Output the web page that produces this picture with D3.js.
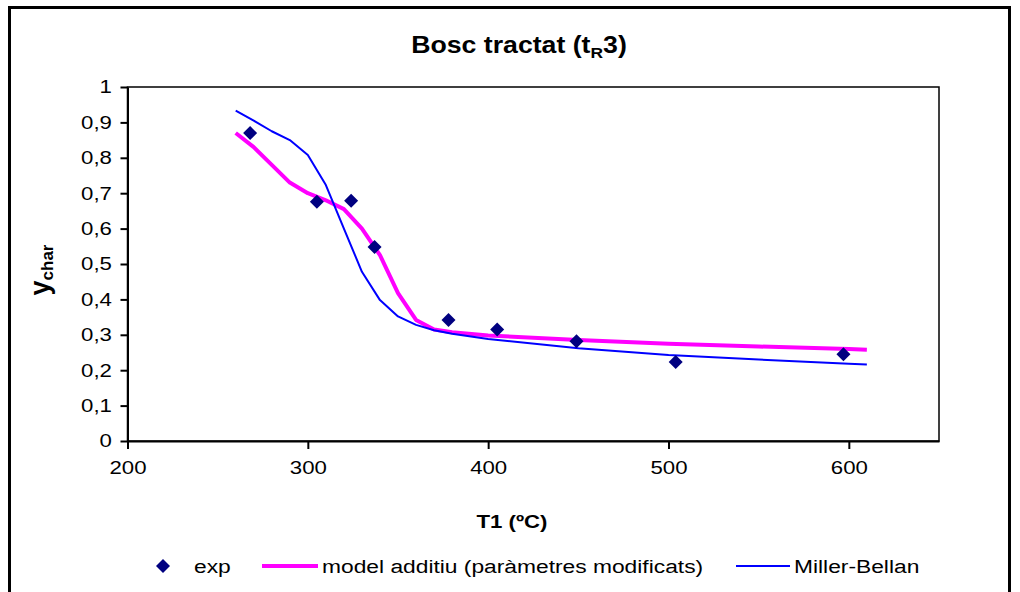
<!DOCTYPE html>
<html><head><meta charset="utf-8">
<script src="https://cdn.jsdelivr.net/npm/d3@7"></script>
<style>body{margin:0;background:#fff}svg{display:block;font-family:"Liberation Sans",Arial,sans-serif}</style>
</head><body><svg id="c" width="1020" height="592"></svg>
<script>
const xTicks = [200, 300, 400, 500, 600];
const yTicks = [0, 0.1, 0.2, 0.3, 0.4, 0.5, 0.6, 0.7, 0.8, 0.9, 1];
const expT = [268, 305, 324, 337, 378, 405, 449, 504, 597];
const expY = [0.87, 0.676, 0.679, 0.548, 0.342, 0.315, 0.282, 0.223, 0.245];
const modelT = [260, 270, 280, 290, 300, 310, 320, 330, 340, 350, 360, 370, 380, 400, 450, 500, 550, 600, 610];
const modelY = [0.87, 0.83, 0.78, 0.73, 0.70, 0.68, 0.655, 0.60, 0.525, 0.418, 0.342, 0.315, 0.307, 0.298, 0.285, 0.275, 0.267, 0.26, 0.258];
const mbT = [260, 270, 280, 290, 300, 310, 320, 330, 340, 350, 360, 370, 380, 400, 450, 500, 550, 600, 610];
const mbY = [0.933, 0.905, 0.875, 0.85, 0.808, 0.723, 0.6, 0.478, 0.398, 0.352, 0.328, 0.313, 0.303, 0.288, 0.262, 0.243, 0.23, 0.218, 0.216];

const SX = 1.2; // horizontal stretch of the original rendering
const svg = d3.select("#c");
const x = d3.scaleLinear().domain([200, 650]).range([127.5, 939]);
const y = d3.scaleLinear().domain([0, 1]).range([441, 87]);
const fmt = d => String(d).replace(".", ",");

// outer border
svg.append("rect").attr("x", 9.5).attr("y", 7.5).attr("width", 1000).attr("height", 620)
  .attr("fill", "#fff").attr("stroke", "#000").attr("stroke-width", 3);

// plot area border
svg.append("rect").attr("x", x(200)).attr("y", y(1)).attr("width", x(650) - x(200)).attr("height", y(0) - y(1))
  .attr("fill", "none").attr("stroke", "#000").attr("stroke-width", 1.5);

// axes
const gx = svg.append("g").attr("transform", `translate(0,${y(0)})`)
  .call(d3.axisBottom(x).tickValues(xTicks).tickSize(8).tickSizeOuter(0).tickPadding(12).tickFormat(d3.format("d")));
const gy = svg.append("g").attr("transform", `translate(${x(200)},0)`)
  .call(d3.axisLeft(y).tickValues(yTicks).tickSize(7).tickSizeOuter(0).tickPadding(6).tickFormat(fmt));
[gx, gy].forEach(g => {
  g.select(".domain").attr("stroke", "#000").attr("stroke-width", 2);
  g.selectAll(".tick line").attr("stroke", "#000").attr("stroke-width", 2);
  g.selectAll(".tick text").attr("fill", "#000").attr("transform", `scale(${SX},1)`)
    .style("font-size", "18.5px").style("font-family", "Liberation Sans, Arial, sans-serif");
});

// lines
const line = d3.line().x(d => x(d[0])).y(d => y(d[1]));
svg.append("path").datum(modelT.map((t, i) => [t, modelY[i]])).attr("d", line)
  .attr("fill", "none").attr("stroke", "#FF00FF").attr("stroke-width", 4).attr("stroke-linejoin", "round");
svg.append("path").datum(mbT.map((t, i) => [t, mbY[i]])).attr("d", line)
  .attr("fill", "none").attr("stroke", "#0000FF").attr("stroke-width", 2).attr("stroke-linejoin", "round");

// diamonds
const dia = (cx, cy, r) => `M${cx},${cy - r}L${cx + r},${cy}L${cx},${cy + r}L${cx - r},${cy}Z`;
svg.append("g").selectAll("path").data(expT.map((t, i) => [t, expY[i]])).join("path")
  .attr("d", d => dia(x(d[0]), y(d[1]), 7)).attr("fill", "#000080");

function stext(px, py, sx) {
  return svg.append("g").attr("transform", `translate(${px},${py}) scale(${sx},1)`).append("text");
}

// title
const title = stext(519, 53, 1.16).attr("text-anchor", "middle")
  .style("font-size", "23px").style("font-weight", "bold");
title.append("tspan").text("Bosc tractat (t");
title.append("tspan").text("R").style("font-size", "15px").attr("dy", 5);
title.append("tspan").text("3)").attr("dy", -5);

// y title
const yt = svg.append("text").attr("transform", "translate(49,270) rotate(-90)").attr("text-anchor", "middle")
  .style("font-weight", "bold");
yt.append("tspan").text("y").style("font-size", "27px");
yt.append("tspan").text("char").style("font-size", "17px").attr("dy", 4);

// x title
stext(512, 528, SX).attr("text-anchor", "middle")
  .style("font-size", "18.5px").style("font-weight", "bold").text("T1 (ºC)");

// legend
const ly = 566;
svg.append("path").attr("d", dia(163, ly, 7)).attr("fill", "#000080");
stext(194, ly + 7, SX).style("font-size", "19px").text("exp");
svg.append("line").attr("x1", 262).attr("x2", 318).attr("y1", ly).attr("y2", ly).attr("stroke", "#FF00FF").attr("stroke-width", 4);
stext(322, ly + 7, SX).style("font-size", "19px").text("model additiu (paràmetres modificats)");
svg.append("line").attr("x1", 736).attr("x2", 790).attr("y1", ly).attr("y2", ly).attr("stroke", "#0000FF").attr("stroke-width", 2);
stext(794, ly + 7, SX).style("font-size", "19px").text("Miller-Bellan");
</script></body></html>
